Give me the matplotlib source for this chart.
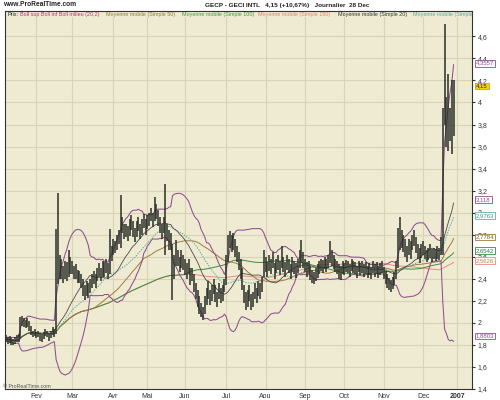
import numpy as np
import pandas as pd
import matplotlib
matplotlib.use('Agg')
import matplotlib.pyplot as plt
from matplotlib.transforms import blended_transform_factory
from matplotlib.patches import Rectangle

plt.rcParams['font.family'] = ['Liberation Sans', 'DejaVu Sans']

# ---- daily data (GECP - GECI INTL, 2006) ----
close_jan = [1.86,1.84,1.85,1.83,1.82,1.84,1.86,1.85,1.98,2.02,2.00,1.99,2.01,1.97,1.92,1.90,1.91]
high_jan  = [1.89,1.87,1.88,1.86,1.85,1.87,1.89,1.90,2.05,2.06,2.04,2.03,2.04,2.02,1.97,1.93,1.94]
low_jan   = [1.83,1.81,1.82,1.80,1.80,1.81,1.83,1.83,1.86,1.97,1.96,1.95,1.96,1.93,1.89,1.87,1.88]

close_feb = [1.89,1.90,1.88,1.86,1.89,1.91,1.90,1.88,1.89,1.92,1.90,2.55,2.45,2.55,2.48,2.42,2.50,2.45,2.58,2.52]
high_feb  = [1.92,1.93,1.91,1.90,1.92,1.94,1.93,1.91,1.93,1.96,1.94,2.85,3.18,2.62,2.58,2.52,2.56,2.55,2.66,2.60]
low_feb   = [1.86,1.87,1.84,1.83,1.85,1.88,1.87,1.84,1.86,1.89,1.87,1.90,2.35,2.40,2.40,2.36,2.40,2.38,2.42,2.44]

close_mar = [2.50,2.44,2.47,2.40,2.42,2.38,2.30,2.25,2.33,2.28,2.35,2.38,2.42,2.37,2.45,2.48,2.43,2.50,2.48,2.52,2.45,2.65,2.62]
high_mar  = [2.56,2.52,2.53,2.48,2.47,2.44,2.40,2.34,2.38,2.36,2.40,2.44,2.47,2.44,2.50,2.54,2.50,2.56,2.55,2.58,2.54,2.85,2.70]
low_mar   = [2.44,2.40,2.40,2.36,2.36,2.32,2.24,2.21,2.24,2.23,2.27,2.32,2.35,2.32,2.38,2.42,2.38,2.42,2.42,2.45,2.40,2.44,2.56]

close_apr = [2.70,2.68,2.75,2.78,2.85,2.90,2.82,2.85,2.80,2.88,2.92,2.84,2.78,2.86,2.90,2.82,2.88,2.93,2.87]
high_apr  = [2.76,2.74,2.80,2.84,3.16,2.96,2.90,2.90,2.88,2.94,2.98,2.92,2.86,2.92,2.96,2.90,2.94,2.99,2.94]
low_apr   = [2.62,2.63,2.66,2.72,2.68,2.82,2.76,2.78,2.74,2.79,2.84,2.78,2.73,2.78,2.83,2.76,2.80,2.86,2.80]

close_may = [2.92,2.95,2.98,2.93,3.05,3.00,2.95,2.88,2.82,2.90,2.95,2.80,2.72,2.75,2.35,2.55,2.62,2.58,2.52,2.60,2.55]
high_may  = [2.98,3.00,3.04,3.00,3.14,3.08,3.02,2.96,2.90,2.96,3.26,2.90,2.84,2.82,2.72,2.62,2.75,2.66,2.60,2.66,2.62]
low_may   = [2.85,2.88,2.92,2.87,2.92,2.94,2.88,2.82,2.76,2.82,2.62,2.74,2.66,2.66,2.21,2.40,2.52,2.52,2.46,2.50,2.48]

close_jun = [2.50,2.45,2.52,2.40,2.44,2.35,2.28,2.20,2.15,2.10,2.08,2.18,2.25,2.30,2.22,2.28,2.33,2.26,2.20,2.30,2.25,2.28,2.35]
high_jun  = [2.58,2.54,2.58,2.50,2.50,2.44,2.36,2.30,2.24,2.18,2.14,2.24,2.32,2.38,2.30,2.34,2.40,2.34,2.28,2.36,2.32,2.34,2.40]
low_jun   = [2.43,2.40,2.44,2.34,2.38,2.28,2.22,2.14,2.08,2.05,2.03,2.08,2.16,2.22,2.16,2.20,2.26,2.19,2.14,2.22,2.18,2.20,2.28]

close_jul = [2.55,2.72,2.78,2.70,2.75,2.68,2.62,2.55,2.50,2.35,2.25,2.18,2.22,2.28,2.15,2.20,2.30,2.25,2.32,2.28,2.35,2.55]
high_jul  = [2.62,2.80,2.83,2.80,2.82,2.76,2.70,2.64,2.58,2.50,2.34,2.28,2.30,2.34,2.26,2.28,2.36,2.32,2.38,2.36,2.42,2.66]
low_jul   = [2.34,2.55,2.68,2.64,2.66,2.60,2.55,2.48,2.40,2.30,2.18,2.12,2.14,2.20,2.12,2.14,2.22,2.18,2.24,2.22,2.28,2.42]

close_aug = [2.52,2.48,2.55,2.50,2.58,2.46,2.52,2.55,2.49,2.57,2.52,2.48,2.55,2.51,2.46,2.53,2.50,2.47,2.52,2.58,2.62,2.56]
high_aug  = [2.60,2.55,2.62,2.58,2.64,2.54,2.58,2.62,2.56,2.70,2.60,2.55,2.62,2.58,2.53,2.60,2.56,2.54,2.58,2.66,2.75,2.64]
low_aug   = [2.46,2.42,2.47,2.44,2.50,2.40,2.45,2.48,2.43,2.50,2.46,2.42,2.48,2.45,2.40,2.46,2.44,2.41,2.45,2.50,2.54,2.50]

close_sep = [2.52,2.48,2.50,2.45,2.42,2.40,2.44,2.47,2.50,2.53,2.51,2.55,2.52,2.56,2.62,2.58,2.55,2.52,2.50,2.47,2.45,2.50]
high_sep  = [2.58,2.55,2.56,2.52,2.48,2.46,2.50,2.53,2.56,2.58,2.57,2.60,2.58,2.62,2.74,2.66,2.62,2.58,2.56,2.53,2.52,2.56]
low_sep   = [2.46,2.42,2.44,2.39,2.36,2.35,2.38,2.41,2.44,2.47,2.45,2.49,2.46,2.50,2.54,2.52,2.49,2.46,2.44,2.40,2.39,2.44]

close_oct = [2.48,2.52,2.50,2.47,2.53,2.50,2.49,2.46,2.51,2.48,2.50,2.47,2.49,2.46,2.48,2.45,2.50,2.47,2.49,2.46,2.48,2.50]
high_oct  = [2.54,2.57,2.56,2.53,2.58,2.56,2.55,2.52,2.56,2.54,2.56,2.53,2.55,2.52,2.54,2.51,2.56,2.53,2.55,2.52,2.54,2.56]
low_oct   = [2.43,2.46,2.45,2.42,2.47,2.45,2.44,2.41,2.46,2.43,2.45,2.42,2.44,2.41,2.43,2.40,2.45,2.42,2.44,2.41,2.43,2.45]

close_nov = [2.45,2.40,2.38,2.35,2.33,2.37,2.40,2.48,2.70,2.80,2.75,2.72,2.68,2.62,2.70,2.66,2.74,2.78,2.70,2.65,2.60,2.66]
high_nov  = [2.51,2.47,2.44,2.41,2.39,2.42,2.46,2.56,2.86,2.96,2.84,2.80,2.76,2.70,2.76,2.74,2.80,2.84,2.78,2.72,2.68,2.72]
low_nov   = [2.40,2.35,2.32,2.30,2.28,2.31,2.34,2.40,2.50,2.66,2.68,2.64,2.60,2.55,2.62,2.58,2.66,2.70,2.63,2.58,2.54,2.59]

close_dec = [2.68,2.64,2.60,2.62,2.65,2.60,2.63,2.61,2.64,2.62,2.70,3.85,4.25,3.75,3.95,3.80,3.75,4.15]
high_dec  = [2.74,2.70,2.66,2.68,2.72,2.67,2.68,2.67,2.70,2.68,2.78,3.95,4.71,4.05,4.26,3.95,4.20,4.20]
low_dec   = [2.62,2.58,2.55,2.57,2.59,2.55,2.58,2.56,2.58,2.57,2.62,2.62,3.80,3.60,3.56,3.65,3.53,3.70]

month_labels = ['Fev', 'Mar', 'Avr', 'Mai', 'Jun', 'Jul', 'Aou', 'Sep', 'Oct', 'Nov', 'Dec', '2007']
month_pos = [17, 37, 60, 79, 100, 123, 145, 167, 189, 211, 233, 252]
y_ticks = [1.4, 1.6, 1.8, 2.0, 2.2, 2.4, 2.6, 2.8, 3.0, 3.2, 3.4, 3.6, 3.8, 4.0, 4.2, 4.4, 4.6]

tag_values = [4.3557, 4.15, 3.118, 2.9763, 2.7784, 2.6542, 2.5626, 1.8803]
tag_labels = ['4,3557', '4,15', '3,118', '2,9763', '2,7784', '2,6542', '2,5626', '1,8803']

# ---- assemble ----
close = np.array(close_jan + close_feb + close_mar + close_apr + close_may + close_jun +
                 close_jul + close_aug + close_sep + close_oct + close_nov + close_dec)
high = np.array(high_jan + high_feb + high_mar + high_apr + high_may + high_jun +
                high_jul + high_aug + high_sep + high_oct + high_nov + high_dec)
low = np.array(low_jan + low_feb + low_mar + low_apr + low_may + low_jun +
               low_jul + low_aug + low_sep + low_oct + low_nov + low_dec)
idx = np.arange(len(close))
s = pd.Series(close)

def sma(n):
    return s.rolling(n, min_periods=1).mean()

mid = sma(20)
sd = s.rolling(20, min_periods=1).std(ddof=0)
bb_up = mid + 2 * sd
bb_lo = mid - 2 * sd

# ---- colours ----
BG = '#EFEBD3'
GRID = '#D9D3B5'
C_BB = '#8E4F8E'
C_50 = '#A27A3E'
C_100 = '#3C8C3C'
C_150 = '#E3907E'
C_20 = '#4A4A4A'
C_30 = '#5FAF9C'

fig = plt.figure(figsize=(5, 4), dpi=100, facecolor='white')
ax = fig.add_axes([5 / 500, 11 / 400, 467 / 500, 378 / 400])
ax.set_facecolor(BG)

ax.set_xlim(-0.56, 260.3)
ax.set_ylim(1.4 + 0.5 / 110.35, 1.4 + 378.5 / 110.35)

# grid
for p in month_pos:
    ax.axvline(p, color=GRID, lw=0.8, zorder=0)
for t in y_ticks:
    ax.axhline(t, color=GRID, lw=0.8, zorder=0)

# legend band at top
ax.add_patch(Rectangle((0, 1 - 6 / 378), 1, 6 / 378, transform=ax.transAxes,
                       facecolor=BG, edgecolor='none', zorder=1))

# indicators
ax.plot(idx, sma(150), color=C_150, lw=0.7, zorder=2)
ax.plot(idx, sma(100), color=C_100, lw=0.7, zorder=2)
ax.plot(idx, sma(50), color=C_50, lw=0.7, zorder=2)
ax.plot(idx, sma(30), color=C_30, lw=0.7, ls=(0, (1.5, 1.2)), zorder=2)
ax.plot(idx, bb_up, color=C_BB, lw=0.75, zorder=2)
ax.plot(idx, bb_lo, color=C_BB, lw=0.75, zorder=2)
ax.plot(idx, mid, color=C_20, lw=0.6, zorder=2)

# price bars
ax.vlines(idx, low, high, color='#2A2F28', lw=1.1, zorder=3)

# axes styling
for sp in ax.spines.values():
    sp.set_color('#333333')
    sp.set_linewidth(0.8)
ax.yaxis.tick_right()
ax.set_yticks(y_ticks)
ax.set_yticklabels([('%g' % t).replace('.', ',') for t in y_ticks])
ax.tick_params(axis='y', labelsize=5, length=2, pad=2, colors='#333333')
ax.set_xticks(month_pos)
ax.set_xticklabels(month_labels)
ax.tick_params(axis='x', labelsize=5, length=0, pad=3, colors='#333333')
ax.get_xticklabels()[-1].set_fontweight('bold')

# legend texts
leg = [('Prix:', 7, '#222222'),
       ('Boll sup Boll inf Boll milieu (20,2)', 20, '#B8336A'),
       ('Moyenne mobile (Simple 50)', 106, '#8E7A2E'),
       ('Moyenne mobile (Simple 100)', 182, '#3A9A3A'),
       ('Moyenne mobile (Simple 150)', 258, '#E0806E'),
       ('Moyenne mobile (Simple 20)', 338, '#333333'),
       ('Moyenne mobile (Simple 30)', 413, '#55AA99')]
for txt, xp, col in leg:
    t = ax.text((xp - 5) / 467, 1 - 3 / 378, txt, transform=ax.transAxes, fontsize=3.9,
                color=col, va='center', ha='left', zorder=5)
    t.set_clip_on(True)

# value tags on the right
tag_edge = [C_BB, '#C8A800', C_BB, C_30, C_50, C_100, C_150, C_BB]
tag_face = ['white', '#F3D21A', 'white', 'white', 'white', 'white', 'white', 'white']
tag_text = ['#8E4F8E', '#222222', '#8E4F8E', '#3E9A86', '#7A5A20', '#2E7E2E', '#D0705E', '#8E4F8E']
tr = blended_transform_factory(ax.transAxes, ax.transData)
for v, lab, ec, fc, tc in zip(tag_values, tag_labels, tag_edge, tag_face, tag_text):
    ax.text(1 + 4 / 467, v, lab, transform=tr, fontsize=4.3, color=tc, va='center', ha='left',
            clip_on=False, zorder=6,
            bbox=dict(boxstyle='square,pad=0.15', facecolor=fc, edgecolor=ec, lw=0.6))

# header
fig.text(3 / 500, 1 - 5 / 400, 'www.ProRealTime.com', fontsize=4.8, fontweight='bold',
         color='#222222', va='center', ha='left')
fig.text(205 / 500, 1 - 5 / 400, 'GECP - GECI INTL   4,15 (+10,67%)   Journalier  28 Dec',
         fontsize=4.6, fontweight='bold', color='#222222', va='center', ha='left')
fig.text(3 / 500, 1 - 386 / 400, '\u00a9 ProRealTime.com', fontsize=3.8, color='#555555',
         va='center', ha='left')

fig.savefig('out.png', dpi=100, facecolor='white')
